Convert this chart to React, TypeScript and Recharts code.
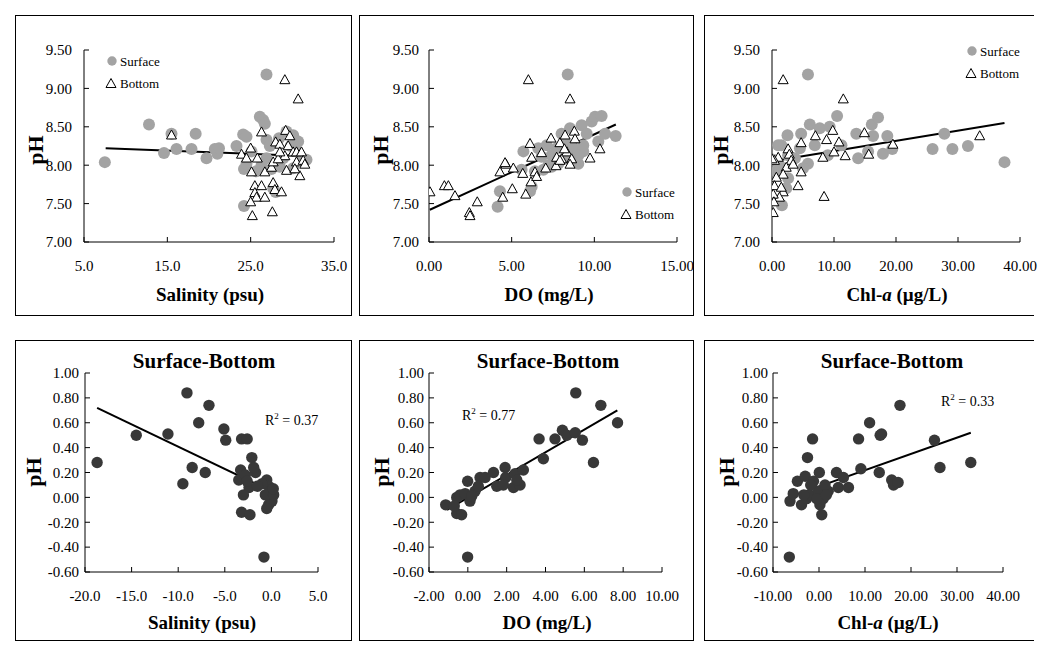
import React from 'react';
import { ScatterChart, Scatter, XAxis, YAxis, ReferenceLine } from 'recharts';

const SERIF = '"Liberation Serif", "Times New Roman", serif';

// ---- top row: pH vs salinity / DO / Chl-a (surface + bottom)
const salSurface = [7.5, 12.8, 14.6, 15.5, 16.1, 17.9, 18.4, 19.7, 20.7, 21.0, 21.2, 23.3, 24.1, 24.5, 24.2, 24.2, 24.5, 25.1, 25.7, 26.1, 26.5, 26.7, 26.9, 26.9, 26.9, 26.3, 27.3, 27.7, 28.0, 27.5, 28.5, 28.9, 29.3, 30.1, 30.7, 30.5, 30.1, 31.1, 31.7, 29.8, 28.4];
const salSurfacePH = [8.04, 8.53, 8.16, 8.41, 8.21, 8.21, 8.41, 8.09, 8.21, 8.15, 8.22, 8.25, 8.40, 8.37, 7.95, 7.47, 8.02, 8.18, 7.92, 8.63, 8.59, 8.54, 9.18, 8.33, 8.09, 8.00, 8.25, 7.70, 7.65, 7.95, 7.98, 8.09, 8.44, 8.39, 8.31, 8.18, 7.96, 8.07, 8.07, 8.25, 8.35];
const salBottom = [15.5, 29.1, 30.7, 26.3, 25.0, 23.9, 24.5, 25.8, 25.1, 25.5, 26.3, 25.5, 25.7, 26.7, 25.0, 25.2, 27.6, 27.7, 27.9, 28.7, 26.7, 27.5, 27.7, 28.0, 28.5, 29.2, 29.7, 29.5, 30.1, 29.1, 28.3, 29.3, 30.5, 31.1, 30.5, 31.3, 30.9, 31.5, 30.3, 28.5];
const salBottomPH = [8.40, 9.12, 8.87, 8.44, 8.23, 8.15, 8.10, 8.10, 7.92, 7.74, 7.74, 7.65, 7.59, 7.59, 7.53, 7.35, 7.40, 7.78, 7.69, 7.66, 7.92, 7.98, 8.05, 8.31, 8.28, 8.46, 8.39, 8.26, 8.18, 8.13, 8.09, 7.94, 8.18, 8.18, 8.05, 8.07, 7.87, 8.02, 7.96, 8.18];
const salFit = [[7.6, 8.22], [31.5, 8.12]];

const doSurface = [8.39, 4.15, 4.29, 5.71, 6.21, 6.11, 5.6, 6.41, 6.92, 6.81, 7.12, 7.42, 7.42, 7.72, 8.02, 8.23, 8.53, 8.73, 8.63, 9.03, 9.23, 9.33, 9.54, 9.84, 10.04, 10.44, 10.24, 10.65, 11.29, 9.03, 8.23, 7.82, 7.22, 6.61, 9.33];
const doSurfacePH = [9.18, 7.46, 7.66, 8.18, 7.72, 7.66, 7.94, 7.92, 7.94, 8.11, 8.26, 8.13, 7.98, 8.22, 8.41, 8.31, 8.48, 8.22, 8.05, 8.02, 8.52, 8.18, 8.41, 8.57, 8.63, 8.64, 8.31, 8.41, 8.38, 8.13, 8.09, 8.02, 8.00, 8.22, 8.26];
const doBottom = [6.01, 8.53, 0.06, 0.93, 1.17, 1.57, 2.44, 2.48, 2.92, 4.29, 4.66, 4.6, 4.46, 5.04, 5.1, 5.67, 5.85, 6.11, 6.21, 6.17, 6.41, 6.51, 6.81, 7.06, 7.38, 7.68, 7.72, 7.92, 8.02, 8.23, 8.33, 8.63, 8.79, 8.83, 8.19, 8.53, 9.74, 10.34, 7.92];
const doBottomPH = [9.12, 8.87, 7.66, 7.74, 7.74, 7.61, 7.39, 7.35, 7.53, 7.92, 8.02, 8.04, 7.59, 7.70, 7.97, 7.90, 7.63, 8.29, 8.11, 7.79, 7.92, 7.86, 8.17, 7.97, 8.36, 8.00, 8.11, 8.30, 8.09, 8.40, 8.18, 8.09, 8.45, 8.35, 8.22, 8.02, 8.10, 8.22, 8.07];
const doFit = [[0.05, 7.42], [11.3, 8.53]];

const chlSurface = [5.8, 37.5, 25.9, 27.8, 29.1, 31.6, 10.5, 6.1, 7.7, 9.3, 16.1, 17.1, 16.3, 13.6, 13.9, 15.5, 17.9, 18.6, 19.4, 2.5, 1.5, 4.7, 5.8, 5.0, 6.9, 1.0, 0.2, 1.2, 2.3, 1.6, 2.6, 0.7, 11.2, 9.0, 3.7, 4.5, 2.6];
const chlSurfacePH = [9.18, 8.04, 8.21, 8.41, 8.21, 8.25, 8.64, 8.53, 8.48, 8.50, 8.53, 8.62, 8.38, 8.41, 8.09, 8.18, 8.15, 8.38, 8.21, 8.39, 8.26, 8.41, 8.02, 7.96, 8.26, 8.26, 8.07, 8.00, 7.70, 7.48, 8.13, 7.92, 8.26, 8.13, 8.09, 8.22, 7.83];
const chlBottom = [1.8, 11.5, 33.5, 19.5, 14.9, 15.6, 11.8, 10.8, 9.8, 8.8, 7.0, 4.7, 8.2, 10.0, 8.4, 4.2, 4.7, 2.6, 2.8, 3.1, 2.3, 1.8, 1.0, 0.4, 0.7, 0.4, 1.8, 1.2, 0.2, 0.3, 0.2, 1.5, 0.0, 3.4];
const chlBottomPH = [9.12, 8.87, 8.39, 8.28, 8.43, 8.15, 8.13, 8.31, 8.46, 8.34, 8.39, 8.30, 8.11, 8.18, 7.60, 7.74, 7.92, 8.22, 8.15, 8.07, 7.98, 7.89, 8.11, 8.07, 7.85, 7.74, 7.66, 7.59, 7.63, 7.53, 7.39, 7.72, 8.09, 8.02];
const chlFit = [[0.0, 8.05], [37.5, 8.55]];

// ---- bottom row: surface-bottom differences
const dSal = [-18.7, -14.5, -11.1, -9.06, -6.7, -7.8, -9.5, -8.5, -7.1, -5.1, -4.9, -3.2, -2.6, -2.1, -3.3, -3.5, -2.8, -1.7, -2.4, -3.0, -3.2, -2.3, -0.8, -0.5, -0.3, 0.06, -0.1, -0.3, 0.06, -0.65, 0.24, -1.0, -1.5, -2.6, -1.9, -0.5, 0.2];
const dSalPH = [0.28, 0.50, 0.51, 0.84, 0.74, 0.60, 0.11, 0.24, 0.20, 0.55, 0.46, 0.47, 0.47, 0.32, 0.22, 0.14, 0.18, 0.20, 0.08, 0.02, -0.12, -0.14, -0.48, 0.14, 0.09, 0.05, -0.01, -0.06, -0.03, 0.02, 0.02, 0.11, 0.09, 0.13, 0.24, -0.09, 0.07];
const dSalFit = [[-18.7, 0.72], [0, 0.05]];

const dDO = [-1.14, -0.57, -0.57, -0.32, -0.01, -0.01, -0.4, -0.14, 0.11, 0.37, 0.63, 0.89, 0.54, 1.32, 1.49, 1.92, 1.95, 1.83, 2.35, 2.43, 2.69, 2.86, 2.52, 3.67, 3.89, 4.49, 4.87, 5.10, 5.53, 5.56, 5.9, 6.47, 6.85, 7.71, 0.2, -0.7];
const dDOPH = [-0.06, 0.0, -0.13, -0.14, 0.13, -0.48, 0.02, 0.03, -0.03, 0.05, 0.16, 0.16, 0.09, 0.20, 0.09, 0.24, 0.16, 0.10, 0.08, 0.19, 0.10, 0.22, 0.14, 0.47, 0.31, 0.47, 0.54, 0.50, 0.52, 0.84, 0.46, 0.28, 0.74, 0.60, 0.01, -0.07];
const dDOFit = [[-1.07, -0.10], [7.7, 0.70]];

const dChl = [-6.45, -6.3, -5.6, -4.7, -3.8, -3.0, -2.5, -1.4, -1.2, -2.7, -2.0, 0.07, -0.1, 0.2, 0.6, 0.9, 2.0, -0.5, 3.8, 4.2, 5.3, 6.4, 8.6, 9.1, 11.0, 13.3, 13.6, 13.1, 15.8, 16.2, 17.2, 17.6, 25.1, 26.3, 33.0, 1.3, -3.3, -1.8, 1.6];
const dChlPH = [-0.48, -0.03, 0.03, 0.13, -0.06, 0.17, 0.32, 0.47, 0.13, -0.01, 0.02, 0.20, 0.05, -0.06, -0.14, -0.01, 0.05, -0.01, 0.20, 0.08, 0.16, 0.08, 0.47, 0.23, 0.60, 0.50, 0.51, 0.20, 0.14, 0.10, 0.12, 0.74, 0.46, 0.24, 0.28, 0.10, 0.02, 0.10, 0.02];
const dChlFit = [[-6.7, 0.0], [33.0, 0.52]];

// axis ticks
const phTicks = [7.0, 7.5, 8.0, 8.5, 9.0, 9.5];
const diffTicks = [-0.6, -0.4, -0.2, 0.0, 0.2, 0.4, 0.6, 0.8, 1.0];
const salTicks = [5, 15, 25, 35];
const doTicks = [0, 5, 10, 15];
const chlTicks = [0, 10, 20, 30, 40];
const dSalTicks = [-20, -15, -10, -5, 0, 5];
const dDOTicks = [-2, 0, 2, 4, 6, 8, 10];
const dChlTicks = [-10, 0, 10, 20, 30, 40];

type Pt = { x: number; y: number };
const zip = (xs: number[], ys: number[]): Pt[] => xs.map((x, i) => ({ x, y: ys[i] }));
const seg = (f: number[][]) => f.map(([x, y]) => ({ x, y }));

const GRAY = '#a3a3a3';
const DARK = '#383838';

const grayDot = (p: any) => <circle cx={p.cx} cy={p.cy} r={6} fill={GRAY} />;
const darkDot = (p: any) => <circle cx={p.cx} cy={p.cy} r={5.7} fill={DARK} />;
const tri = (p: any) => (
  <polygon
    points={`${p.cx},${p.cy - 4.5} ${p.cx - 5},${p.cy + 4.5} ${p.cx + 5},${p.cy + 4.5}`}
    fill="#fff"
    stroke="#000"
    strokeWidth={1}
  />
);

interface PanelProps {
  box: { left: number; top: number; right: number; bottom: number; openRight?: boolean };
  plot: { x0: number; x1: number; y0: number; y1: number };
  xDomain: [number, number];
  xTicks: number[];
  xDigits: number;
  yDomain: [number, number];
  yTicks: number[];
  yGap: number;
  xTitle: React.ReactNode;
  xTitlePos: [number, number];
  yTitlePos: [number, number];
  title?: [number, number];
  r2?: { text: string; pos: [number, number] };
  legend?: [number, number];
  surface?: Pt[];
  bottom?: Pt[];
  diff?: Pt[];
  fit: Pt[];
}

function Panel(props: PanelProps) {
  const { box, plot } = props;
  const ox = box.left + 1;
  const oy = box.top + 1;
  // open panels (right column) get a little extra room so the last tick label is not clipped
  const w = box.right - box.left - (box.openRight ? 0 : 1) + (box.openRight ? 14 : 0);
  const h = box.bottom - box.top - 1;
  const yAxisWidth = plot.x0 - ox - 2;
  const xAxisHeight = oy + h - 2 - plot.y1;
  const rx = (x: number) => x - ox;
  const ry = (y: number) => y - oy;

  return (
    <div
      style={{
        position: 'absolute',
        left: box.left,
        top: box.top,
        width: box.right - box.left + 1,
        height: box.bottom - box.top + 1,
        boxSizing: 'border-box',
        border: '1px solid #000',
        borderRight: box.openRight ? 'none' : '1px solid #000',
        overflow: 'visible',
      }}
    >
      <ScatterChart
        width={w}
        height={h}
        margin={{ top: plot.y0 - oy, right: ox + w - plot.x1, bottom: 2, left: 2 }}
      >
        <XAxis
          type="number"
          dataKey="x"
          domain={props.xDomain}
          ticks={props.xTicks}
          interval={0}
          allowDataOverflow
          height={xAxisHeight}
          tickSize={-5}
          tickMargin={23}
          axisLine={{ stroke: '#000' }}
          tickLine={{ stroke: '#000' }}
          tick={{ fill: '#000', fontSize: 15, fontFamily: SERIF }}
          tickFormatter={(v: number) => v.toFixed(props.xDigits)}
        />
        <YAxis
          type="number"
          dataKey="y"
          domain={props.yDomain}
          ticks={props.yTicks}
          interval={0}
          allowDataOverflow
          width={yAxisWidth}
          tickSize={-5}
          tickMargin={props.yGap + 5}
          axisLine={{ stroke: '#000' }}
          tickLine={{ stroke: '#000' }}
          tick={{ fill: '#000', fontSize: 15, fontFamily: SERIF }}
          tickFormatter={(v: number) => v.toFixed(2)}
        />
        {props.surface && (
          <Scatter name="Surface" data={props.surface} shape={grayDot} isAnimationActive={false} />
        )}
        {props.bottom && (
          <Scatter name="Bottom" data={props.bottom} shape={tri} isAnimationActive={false} />
        )}
        {props.diff && (
          <Scatter name="Surface-Bottom" data={props.diff} shape={darkDot} isAnimationActive={false} />
        )}
        <ReferenceLine
          segment={props.fit}
          stroke="#000"
          strokeWidth={2}
          ifOverflow="visible"
        />

        <text
          x={rx(props.xTitlePos[0])}
          y={ry(props.xTitlePos[1])}
          textAnchor="middle"
          fontFamily={SERIF}
          fontWeight="bold"
          fontSize={19}
          fill="#000"
        >
          {props.xTitle}
        </text>
        <text
          x={rx(props.yTitlePos[0])}
          y={ry(props.yTitlePos[1])}
          transform={`rotate(-90 ${rx(props.yTitlePos[0])} ${ry(props.yTitlePos[1])})`}
          textAnchor="middle"
          dominantBaseline="central"
          fontFamily={SERIF}
          fontWeight="bold"
          fontSize={22}
          fill="#000"
        >
          pH
        </text>
        {props.title && (
          <text
            x={rx(props.title[0])}
            y={ry(props.title[1])}
            textAnchor="middle"
            fontFamily={SERIF}
            fontWeight="bold"
            fontSize={21}
            fill="#000"
          >
            Surface-Bottom
          </text>
        )}
        {props.r2 && (
          <text x={rx(props.r2.pos[0])} y={ry(props.r2.pos[1])} fontFamily={SERIF} fontSize={14} fill="#000">
            R<tspan dy={-6} fontSize={9}>2</tspan>
            <tspan dy={6}>{` = ${props.r2.text}`}</tspan>
          </text>
        )}
        {props.legend && (
          <g fontFamily={SERIF} fontSize={13} fill="#000">
            <circle cx={rx(props.legend[0])} cy={ry(props.legend[1])} r={4.7} fill={GRAY} />
            <text x={rx(props.legend[0] + 8)} y={ry(props.legend[1] + 4.5)}>Surface</text>
            <polygon
              points={`${rx(props.legend[0] - 1)},${ry(props.legend[1] + 17.5)} ${rx(props.legend[0] - 6)},${ry(props.legend[1] + 26.5)} ${rx(props.legend[0] + 4)},${ry(props.legend[1] + 26.5)}`}
              fill="#fff"
              stroke="#000"
            />
            <text x={rx(props.legend[0] + 8)} y={ry(props.legend[1] + 26.5)}>Bottom</text>
          </g>
        )}
      </ScatterChart>
    </div>
  );
}

export default function App() {
  const topY = { y0: 50, y1: 242 };
  const botY = { y0: 373, y1: 572 };
  const topBox = { top: 15, bottom: 315 };
  const botBox = { top: 340, bottom: 640 };
  const chlTitle = (
    <>
      Chl-<tspan fontStyle="italic">a</tspan> (µg/L)
    </>
  );

  return (
    <div
      style={{
        position: 'absolute',
        left: 0,
        top: 0,
        width: 1055,
        height: 658,
        background: '#fff',
        fontFamily: SERIF,
      }}
    >
      <Panel
        box={{ left: 15, right: 351, ...topBox }}
        plot={{ x0: 84, x1: 334, ...topY }}
        xDomain={[5, 35]}
        xTicks={salTicks}
        xDigits={1}
        yDomain={[7, 9.5]}
        yTicks={phTicks}
        yGap={12}
        xTitle="Salinity (psu)"
        xTitlePos={[210, 301]}
        yTitlePos={[35, 150]}
        legend={[112, 61]}
        surface={zip(salSurface, salSurfacePH)}
        bottom={zip(salBottom, salBottomPH)}
        fit={seg(salFit)}
      />
      <Panel
        box={{ left: 359, right: 693, ...topBox }}
        plot={{ x0: 429, x1: 677, ...topY }}
        xDomain={[0, 15]}
        xTicks={doTicks}
        xDigits={2}
        yDomain={[7, 9.5]}
        yTicks={phTicks}
        yGap={10}
        xTitle="DO (mg/L)"
        xTitlePos={[549, 301]}
        yTitlePos={[380, 150]}
        legend={[627, 192]}
        surface={zip(doSurface, doSurfacePH)}
        bottom={zip(doBottom, doBottomPH)}
        fit={seg(doFit)}
      />
      <Panel
        box={{ left: 704, right: 1033, openRight: true, ...topBox }}
        plot={{ x0: 772, x1: 1020, ...topY }}
        xDomain={[0, 40]}
        xTicks={chlTicks}
        xDigits={2}
        yDomain={[7, 9.5]}
        yTicks={phTicks}
        yGap={12}
        xTitle={chlTitle}
        xTitlePos={[897, 301]}
        yTitlePos={[720, 150]}
        legend={[972, 51]}
        surface={zip(chlSurface, chlSurfacePH)}
        bottom={zip(chlBottom, chlBottomPH)}
        fit={seg(chlFit)}
      />
      <Panel
        box={{ left: 15, right: 351, ...botBox }}
        plot={{ x0: 85, x1: 318, ...botY }}
        xDomain={[-20, 5]}
        xTicks={dSalTicks}
        xDigits={1}
        yDomain={[-0.6, 1.0]}
        yTicks={diffTicks}
        yGap={6}
        xTitle="Salinity (psu)"
        xTitlePos={[202, 629]}
        yTitlePos={[33, 472]}
        title={[204, 368]}
        r2={{ text: '0.37', pos: [265, 425] }}
        diff={zip(dSal, dSalPH)}
        fit={seg(dSalFit)}
      />
      <Panel
        box={{ left: 359, right: 693, ...botBox }}
        plot={{ x0: 429, x1: 662, ...botY }}
        xDomain={[-2, 10]}
        xTicks={dDOTicks}
        xDigits={2}
        yDomain={[-0.6, 1.0]}
        yTicks={diffTicks}
        yGap={5}
        xTitle="DO (mg/L)"
        xTitlePos={[547, 629]}
        yTitlePos={[381, 472]}
        title={[548, 368]}
        r2={{ text: '0.77', pos: [462, 420] }}
        diff={zip(dDO, dDOPH)}
        fit={seg(dDOFit)}
      />
      <Panel
        box={{ left: 704, right: 1033, openRight: true, ...botBox }}
        plot={{ x0: 773, x1: 1003, ...botY }}
        xDomain={[-10, 40]}
        xTicks={dChlTicks}
        xDigits={2}
        yDomain={[-0.6, 1.0]}
        yTicks={diffTicks}
        yGap={5}
        xTitle={chlTitle}
        xTitlePos={[888, 629]}
        yTitlePos={[726, 472]}
        title={[892, 368]}
        r2={{ text: '0.33', pos: [941, 406] }}
        diff={zip(dChl, dChlPH)}
        fit={seg(dChlFit)}
      />
    </div>
  );
}
